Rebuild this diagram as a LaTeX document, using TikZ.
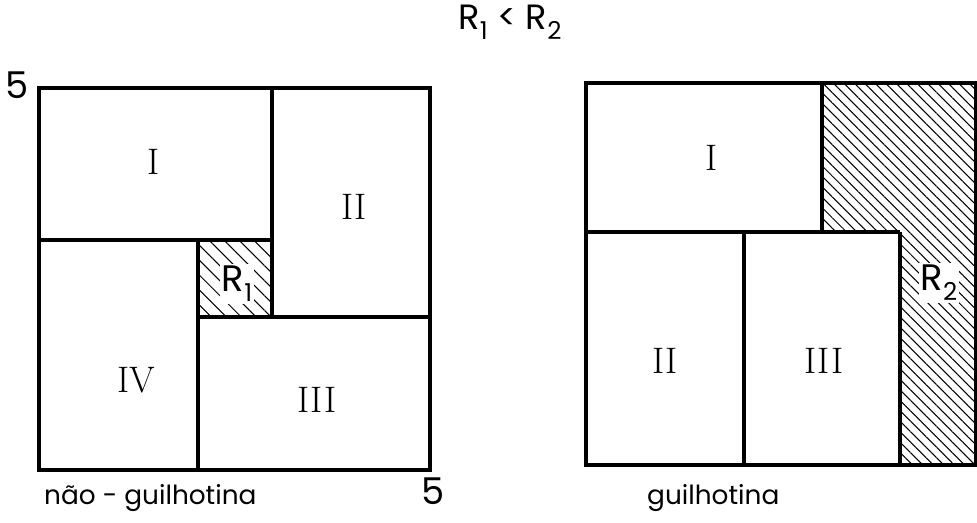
\documentclass[tikz,border=0pt]{standalone}
\usepackage{fontspec}
\setsansfont{Poppins}
\usetikzlibrary{patterns.meta}

\newcommand{\lowidx}[1]{\raisebox{-0.5ex}{\fontsize{14}{14}\selectfont #1}}

\tikzset{
  piece/.style={draw, line width=1.8pt},
  waste/.style={pattern={Lines[angle=-45, distance=4.2pt, line width=0.6pt]}},
  numeral/.style={font=\fontsize{21}{21}\selectfont},
  tag/.style={font=\sffamily\fontsize{21}{23}\selectfont},
  axis/.style={font=\sffamily\fontsize{21}{21}\selectfont},
  caption/.style={font=\sffamily\fontsize{15}{18}\selectfont}
}

\begin{document}
\begin{tikzpicture}[x=0.02cm, y=-0.02cm]
\useasboundingbox (0,0) rectangle (977,523);

% nao-guilhotina
\fill[pattern={Lines[angle=-45, distance=6pt, line width=0.6pt]}] (198,240) rectangle (272,317);
\draw[piece] (39,88) rectangle (430,470);
\draw[piece] (39,240) -- (272,240) (272,88) -- (272,317);
\draw[piece] (198,240) -- (198,470) (198,317) -- (430,317);
\node[numeral] (a1) at (154,162) {I};
\node[numeral] (a2) at (354,207) {II};
\node[numeral] (a4) at (136,380) {IV};
\node[numeral] (a3) at (317,400) {III};
\node[tag, fill=white, inner sep=1pt] (r1) at (237,284) {R\lowidx{1}};
\node[axis] (y5) at (17,85) {5};
\node[axis] (x5) at (433,491) {5};
\node[caption, anchor=west] (c1) at (38,498) {não - guilhotina};

% guilhotina
\fill[waste] (822,83) -- (977,83) -- (977,465) -- (900,465) -- (900,232) -- (822,232) -- cycle;
\draw[piece] (586,83) rectangle (976,465);
\draw[piece] (586,232) -- (900,232) (822,83) -- (822,232);
\draw[piece] (744,232) -- (744,465) (900,232) -- (900,465);
\node[numeral] (b1) at (712,158) {I};
\node[numeral] (b2) at (665,361) {II};
\node[numeral] (b3) at (824,361) {III};
\node[tag, fill=white, inner sep=1pt] (r2) at (939,283) {R\lowidx{2}};
\node[caption, anchor=west] (c2) at (641,498) {guilhotina};

\node[tag, font=\sffamily\fontsize{20}{22}\selectfont] (title) at (510,22) {R\lowidx{1} < R\lowidx{2}};
\end{tikzpicture}
\end{document}
